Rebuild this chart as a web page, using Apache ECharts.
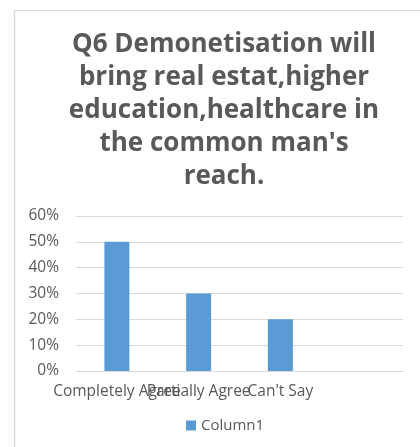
<!DOCTYPE html>
<html>
<head>
<meta charset="utf-8">
<script src="https://cdn.jsdelivr.net/npm/echarts@6/dist/echarts.min.js"></script>
<style>
  html, body { margin: 0; padding: 0; background: #fff; }
  #chart { width: 420px; height: 447px; }
</style>
</head>
<body>
<div id="chart"></div>
<script>
// Survey answers for Q6 (share of respondents)
const categories = ["Completely Agree", "Partially Agree", "Can't Say", ""];
const column1 = [0.5, 0.3, 0.2, null];
const seriesName = "Column1";
const titleLines = [
  "Q6 Demonetisation will",
  "bring real estat,higher",
  "education,healthcare in",
  "the common man's",
  "reach."
];

const textColor = "#595959";
const gridColor = "#d9d9d9";
const barColor = "#5b9bd5";
const font = "'Open Sans', sans-serif";

const chart = echarts.init(document.getElementById("chart"), null, { renderer: "canvas" });
chart.setOption({
  animation: false,
  backgroundColor: "#fff",
  title: {
    text: titleLines.join("\n"),
    left: 224,
    top: 28,
    padding: 0,
    textAlign: "center",
    textStyle: {
      color: textColor,
      fontFamily: font,
      fontWeight: "bold",
      fontSize: 26,
      lineHeight: 33
    }
  },
  graphic: [
    { type: "line", shape: { x1: 14, y1: 10.5, x2: 420, y2: 10.5 }, style: { stroke: gridColor, lineWidth: 1 } },
    { type: "line", shape: { x1: 14.5, y1: 10, x2: 14.5, y2: 447 }, style: { stroke: gridColor, lineWidth: 1.5 } }
  ],
  legend: {
    data: [seriesName],
    top: 413,
    left: 181,
    itemWidth: 10,
    itemHeight: 10,
    itemGap: 5,
    icon: "rect",
    textStyle: { color: textColor, fontFamily: font, fontSize: 15 }
  },
  grid: { left: 76, right: 17, top: 216, bottom: 76, containLabel: false },
  xAxis: {
    type: "category",
    data: categories,
    axisLine: { show: true, lineStyle: { color: gridColor, width: 1 } },
    axisTick: { show: false },
    axisLabel: {
      interval: 0,
      color: textColor,
      fontFamily: font,
      fontSize: 15.5,
      margin: 13,
      hideOverlap: false
    }
  },
  yAxis: {
    type: "value",
    min: 0,
    max: 0.6,
    interval: 0.1,
    axisLine: { show: false },
    axisTick: { show: false },
    splitLine: { lineStyle: { color: gridColor, width: 1 } },
    axisLabel: {
      color: textColor,
      fontFamily: font,
      fontSize: 15.5,
      margin: 17,
      formatter: v => Math.round(v * 100) + "%"
    }
  },
  series: [{
    name: seriesName,
    type: "bar",
    data: column1,
    barWidth: 25,
    itemStyle: { color: barColor }
  }]
});
</script>
</body>
</html>
